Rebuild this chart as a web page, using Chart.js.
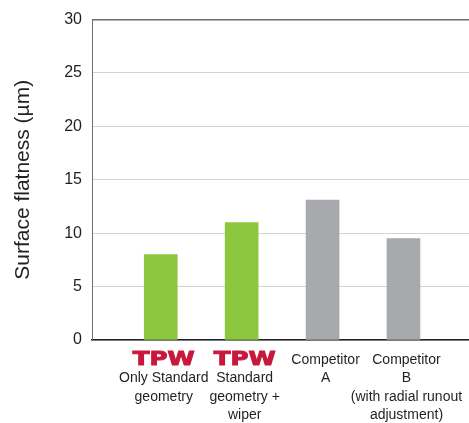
<!DOCTYPE html>
<html>
<head>
<meta charset="utf-8">
<script src="https://cdn.jsdelivr.net/npm/chart.js@4/dist/chart.umd.min.js"></script>
<style>
  html, body { margin: 0; padding: 0; background: #fff; }
  #wrap { width: 469px; height: 423px; }
</style>
</head>
<body>
<div id="wrap"><canvas id="flatChart"></canvas></div>
<script>
// Chart data
const categories = ['Only Standard geometry', 'Standard geometry + wiper', 'Competitor A', 'Competitor B'];
const brandLine = ['TPW', 'TPW', '', ''];
const labelLines = [
    ['Only Standard', 'geometry'],
    ['Standard', 'geometry +', 'wiper'],
    ['Competitor', 'A'],
    ['Competitor', 'B', '(with radial runout', 'adjustment)']
];
const flatness = [8, 11, 13.1, 9.5];
const barColors = ['#8dc63f', '#8dc63f', '#a7a9ac', '#a7a9ac'];
const yTicks = [0, 5, 10, 15, 20, 25, 30];

const points = flatness.map(function(v, i) { return { x: i, y: v }; });

// Draws the category labels under the axis (TPW logo line in red)
const categoryLabels = {
    id: 'categoryLabels',
    afterDraw: function(chart) {
        const ctx = chart.ctx;
        const xs = chart.scales.x;
        const top = chart.chartArea.bottom;
        ctx.save();
        ctx.textAlign = 'center';
        ctx.textBaseline = 'alphabetic';
        categories.forEach(function(c, i) {
            const cx = xs.getPixelForValue(i) + 3;
            let lines = labelLines[i];
            let row = 0;
            if (brandLine[i]) {
                ctx.save();
                ctx.font = 'bold 20px "DejaVu Sans"';
                ctx.fillStyle = '#c8183c';
                ctx.strokeStyle = '#c8183c';
                ctx.lineWidth = 1;
                const w = ctx.measureText(brandLine[i]).width;
                ctx.translate(cx, top + 25);
                ctx.scale(62 / w, 1);
                ctx.fillText(brandLine[i], 0, 0);
                ctx.strokeText(brandLine[i], 0, 0);
                ctx.restore();
                row = 1;
            }
            ctx.font = '14px "Liberation Sans", Arial, sans-serif';
            ctx.fillStyle = '#231f20';
            lines.forEach(function(t, j) {
                ctx.fillText(t, cx, top + 24 + (row + j) * 18.3);
            });
        });
        ctx.restore();
    }
};

const ctx = document.getElementById('flatChart');
new Chart(ctx, {
    type: 'bar',
    data: {
        datasets: [{
            data: points,
            backgroundColor: barColors,
            borderWidth: 0,
            barThickness: 33
        }]
    },
    options: {
        responsive: true,
        maintainAspectRatio: false,
        animation: false,
        devicePixelRatio: 1,
        layout: { padding: { top: 11, right: 0, bottom: 0, left: 0 } },
        plugins: {
            legend: { display: false },
            tooltip: { enabled: false }
        },
        scales: {
            x: {
                type: 'linear',
                offset: false,
                min: -0.85,
                max: 3.81,
                grid: { display: false, drawTicks: false },
                border: { display: true, color: '#231f20', width: 1.5 },
                ticks: { display: false },
                afterFit: function(scale) { scale.height = 83; }
            },
            y: {
                min: 0,
                max: 30,
                afterBuildTicks: function(scale) {
                    scale.ticks = yTicks.map(function(v) { return { value: v }; });
                },
                grid: {
                    color: function(c) { return c.tick && c.tick.value === 30 ? '#6d6e71' : '#d1d3d4'; },
                    lineWidth: function(c) { return c.tick && c.tick.value === 30 ? 1.5 : 1; },
                    drawTicks: false
                },
                border: { display: true, color: '#6d6e71', width: 1 },
                ticks: {
                    padding: 10,
                    color: '#231f20',
                    font: { family: '"Liberation Sans", Arial, sans-serif', size: 16 }
                },
                title: {
                    display: true,
                    text: 'Surface flatness (µm)',
                    color: '#231f20',
                    font: { family: '"Liberation Sans", Arial, sans-serif', size: 21 },
                    padding: { top: 11, bottom: 0 }
                },
                afterFit: function(scale) { scale.width = 92; }
            }
        }
    },
    plugins: [categoryLabels]
});
</script>
</body>
</html>
